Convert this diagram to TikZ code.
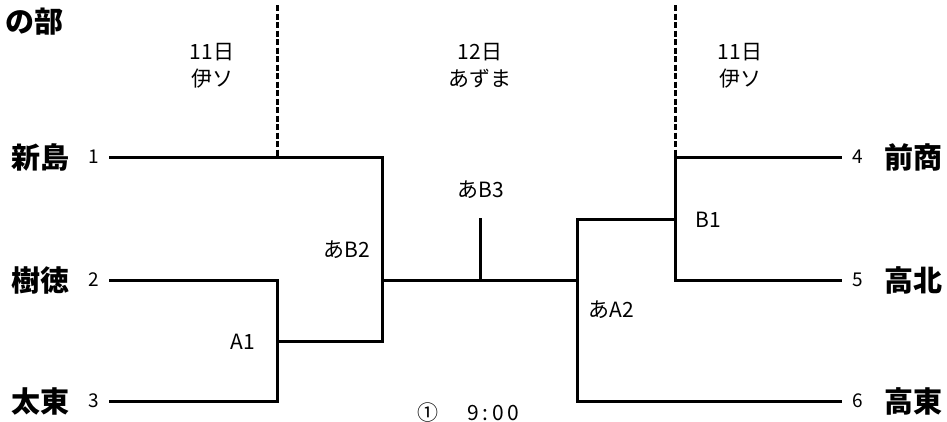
\documentclass[tikz,border=0pt]{standalone}
\usepackage{fontspec}
\setmainfont{Noto Sans CJK JP}
\begin{document}
\begin{tikzpicture}[x=1pt,y=-1pt,
  br/.style={line width=3pt,line cap=rect},
  dsh/.style={line width=3pt,dash pattern=on 6pt off 2.5pt},
  team/.style={font=\fontsize{29}{29}\selectfont\bfseries,inner sep=0pt},
  num/.style={font=\fontsize{19}{19}\selectfont,inner sep=0pt},
  day/.style={font=\fontsize{21}{27}\selectfont,align=center,inner sep=0pt},
  lbl/.style={font=\fontsize{21}{21}\selectfont,inner sep=0pt}]
\useasboundingbox (0,0) rectangle (947,421);
\clip (0,0) rectangle (947,421);
\node[team,anchor=east] (title) at (64,22) {の部};
% coordinates
\coordinate (s1) at (110,157);
\coordinate (s2) at (110,280);
\coordinate (s3) at (110,401);
\coordinate (e4) at (840,157);
\coordinate (e5) at (840,280);
\coordinate (e6) at (840,401);
\coordinate (a1t) at (277,280);
\coordinate (a1b) at (277,401);
\coordinate (a1m) at (277,341);
\coordinate (b2t) at (382,157);
\coordinate (b2b) at (382,341);
\coordinate (b2m) at (382,280);
\coordinate (b3b) at (480,280);
\coordinate (b3t) at (480,219);
\coordinate (a2t) at (577,219);
\coordinate (a2b) at (577,401);
\coordinate (a2m) at (577,280);
\coordinate (b1t) at (675,157);
\coordinate (b1b) at (675,280);
\coordinate (b1m) at (675,219);
\coordinate (dl0) at (277,5);
\coordinate (dl1) at (277,157);
\coordinate (dr0) at (675,5);
\coordinate (dr1) at (675,157);
% dashed day separators
\draw[dsh] (dl0) -- (dl1);
\draw[dsh] (dr0) -- (dr1);
% bracket
\draw[br] (s1) -- (b2t) -- (b2b) -- (a1m);
\draw[br] (s2) -- (a1t) -- (a1b) -- (s3);
\draw[br] (b2m) -- (a2m);
\draw[br] (b3b) -- (b3t);
\draw[br] (a2t) -- (a2b) -- (e6);
\draw[br] (a2t) -- (b1m);
\draw[br] (e4) -- (b1t) -- (b1b) -- (e5);
% teams
\node[team] (t1) at (40,157) {新島};
\node[team] (t2) at (40,280) {樹徳};
\node[team] (t3) at (40,401) {太東};
\node[team] (t4) at (913,157) {前商};
\node[team] (t5) at (913,280) {高北};
\node[team] (t6) at (913,401) {高東};
\node[num] (n1) at (94,157) {1};
\node[num] (n2) at (94,280) {2};
\node[num] (n3) at (94,401) {3};
\node[num] (n4) at (858,157) {4};
\node[num] (n5) at (858,280) {5};
\node[num] (n6) at (858,401) {6};
% days
\node[day] (d1) at (212,66) {11日\\伊ソ};
\node[day] (d2) at (480,66) {12日\\あずま};
\node[day] (d3) at (740,66) {11日\\伊ソ};
% match labels
\node[lbl] (lA1) at (243,342) {A1};
\node[lbl] (lB2) at (347,250) {あB2};
\node[lbl] (lB3) at (481,190) {あB3};
\node[lbl] (lB1) at (708,220) {B1};
\node[lbl] (lA2) at (611,310) {あA2};
\node[lbl,anchor=north west] (time) at (417,403) {①\hspace{1.4em}9\,:\,0\,0};
\end{tikzpicture}
\end{document}
